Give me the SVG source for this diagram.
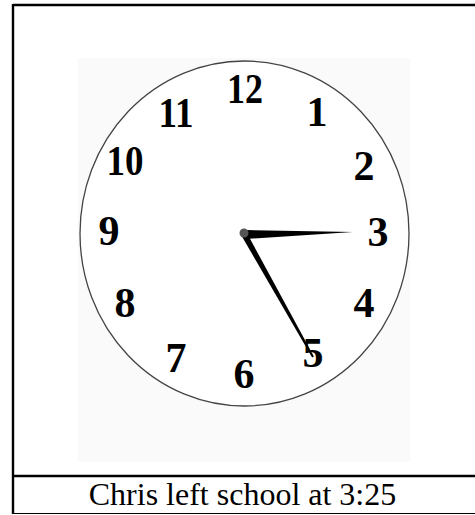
<svg xmlns="http://www.w3.org/2000/svg" width="475" height="515" viewBox="0 0 475 515">
<style>
.num{font-family:"Liberation Serif","Times New Roman",serif;font-weight:bold;font-size:42px;fill:#000;text-anchor:middle}
.cap{font-family:"Liberation Serif","Times New Roman",serif;font-size:32px;fill:#000;text-anchor:middle}
</style>
<rect width="475" height="515" fill="#fff"/>
<g id="frame" stroke="#000" fill="none">
<line x1="13" y1="5" x2="475" y2="5" stroke-width="2.4"/>
<line x1="13" y1="4" x2="13" y2="514" stroke-width="2.4"/>
<line x1="13" y1="476" x2="475" y2="476" stroke-width="2.4"/>
<line x1="13" y1="513.5" x2="475" y2="513.5" stroke-width="1.2"/>
</g>
<g id="clock">
<rect x="78" y="58" width="332" height="404" fill="#fafafa"/>
<ellipse cx="244.5" cy="233.5" rx="164.5" ry="172.5" fill="#fff" stroke="#444" stroke-width="1.3"/>
<g id="numbers">
<text class="num" x="245" y="103" textLength="36" lengthAdjust="spacingAndGlyphs">12</text>
<text class="num" x="176" y="127" textLength="35" lengthAdjust="spacingAndGlyphs">11</text>
<text class="num" x="317" y="126">1</text>
<text class="num" x="125" y="175" textLength="37" lengthAdjust="spacingAndGlyphs">10</text>
<text class="num" x="364" y="180">2</text>
<text class="num" x="109" y="245">9</text>
<text class="num" x="378" y="246">3</text>
<text class="num" x="125" y="317">8</text>
<text class="num" x="364" y="317">4</text>
<text class="num" x="176" y="372">7</text>
<text class="num" x="313" y="367">5</text>
<text class="num" x="244" y="388">6</text>
</g>
<g id="hands" fill="#000">
<polygon points="246,230 353,232 246,239"/>
<polygon points="241.4,235.5 246.6,232.5 313.9,356.5 312.1,357.5"/>
<circle cx="244" cy="233" r="4.5" fill="#555"/>
</g>
</g>
<g id="caption">
<text class="cap" x="242.5" y="505">Chris left school at 3:25</text>
</g>
</svg>
